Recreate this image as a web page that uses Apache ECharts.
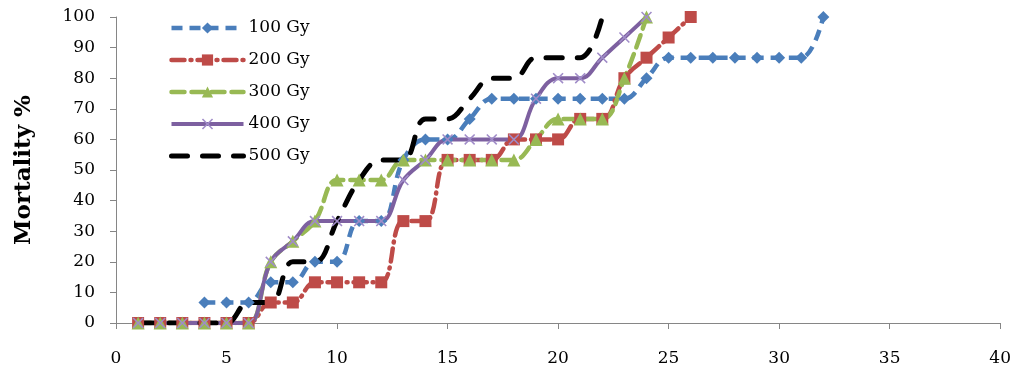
<!DOCTYPE html>
<html>
<head>
<meta charset="utf-8">
<script src="https://cdn.jsdelivr.net/npm/echarts@6/dist/echarts.min.js"></script>
<style>
html,body{margin:0;padding:0;background:#fff;}
#chart{width:1014px;height:370px;}
</style>
</head>
<body>
<div id="chart"></div>
<script>
// ---- data ----
var seriesNames = ['100 Gy', '200 Gy', '300 Gy', '400 Gy', '500 Gy'];

var days100 = [4,5,6,7,8,9,10,11,12,13,14,15,16,17,18,19,20,21,22,23,24,25,26,27,28,29,30,31,32];
var mort100 = [6.7,6.7,6.7,13.3,13.3,20,20,33.3,33.3,53.3,60,60,66.7,73.3,73.3,73.3,73.3,73.3,73.3,73.3,80,86.7,86.7,86.7,86.7,86.7,86.7,86.7,100];

var days200 = [1,2,3,4,5,6,7,8,9,10,11,12,13,14,15,16,17,18,19,20,21,22,23,24,25,26];
var mort200 = [0,0,0,0,0,0,6.7,6.7,13.3,13.3,13.3,13.3,33.3,33.3,53.3,53.3,53.3,60,60,60,66.7,66.7,80,86.7,93.3,100];

var days300 = [1,2,3,4,5,6,7,8,9,10,11,12,13,14,15,16,17,18,19,20,21,22,23,24];
var mort300 = [0,0,0,0,0,0,20,26.7,33.3,46.7,46.7,46.7,53.3,53.3,53.3,53.3,53.3,53.3,60,66.7,66.7,66.7,80,100];

var days400 = [1,2,3,4,5,6,7,8,9,10,11,12,13,14,15,16,17,18,19,20,21,22,23,24];
var mort400 = [0,0,0,0,0,0,20,26.7,33.3,33.3,33.3,33.3,46.7,53.3,60,60,60,60,73.3,80,80,86.7,93.3,100];

var days500 = [1,2,3,4,5,6,7,8,9,10,11,12,13,14,15,16,17,18,19,20,21,22];
var mort500 = [0,0,0,0,0,6.7,6.7,20,20,33.3,46.7,53.3,53.3,66.7,66.7,73.3,80,80,86.7,86.7,86.7,100];

var xTicks = [0,5,10,15,20,25,30,35,40];
var yTicks = [0,10,20,30,40,50,60,70,80,90,100];

function pairs(xs, ys){ return xs.map(function(x,i){ return [x, ys[i]]; }); }

var serif = '"DejaVu Serif", "Liberation Serif", serif';
var xShape = 'path://M0,1 L1,0 L5,4 L9,0 L10,1 L6,5 L10,9 L9,10 L5,6 L1,10 L0,9 L4,5 Z';

var chart = echarts.init(document.getElementById('chart'), null, {renderer:'canvas'});
chart.setOption({
  animation: false,
  backgroundColor: '#ffffff',
  grid: {left:116, right:12, top:17, bottom:47, containLabel:false},
  legend: {
    orient: 'vertical', left: 164, top: 13,
    itemWidth: 72, itemHeight: 14, itemGap: 12,
    textStyle: {fontFamily: serif, fontSize: 17, color: '#000', lineHeight: 20},
    data: [
      {name: seriesNames[0], lineStyle:{width:4.5}},
      {name: seriesNames[1], lineStyle:{width:4.5}},
      {name: seriesNames[2], lineStyle:{width:4.5}},
      {name: seriesNames[3], lineStyle:{width:4}},
      {name: seriesNames[4], lineStyle:{width:5}, itemStyle:{color:'rgba(0,0,0,0)', opacity:0}}
    ]
  },
  xAxis: {
    type: 'value', min: xTicks[0], max: xTicks[xTicks.length-1], interval: 5,
    axisLine: {show:true, onZero:false, lineStyle:{color:'#868686', width:1}},
    axisTick: {show:true, inside:false, length:6, lineStyle:{color:'#868686'}},
    splitLine: {show:false},
    axisLabel: {fontFamily: serif, fontSize: 17, color:'#000', margin: 27}
  },
  yAxis: {
    type: 'value', min: yTicks[0], max: yTicks[yTicks.length-1], interval: 10,
    name: 'Mortality %', nameLocation: 'middle', nameRotate: 90, nameGap: 80,
    nameTextStyle: {fontFamily: serif, fontSize: 23, fontWeight: 'bold', color:'#000'},
    axisLine: {show:true, lineStyle:{color:'#868686', width:1}},
    axisTick: {show:true, inside:false, length:6, lineStyle:{color:'#868686'}},
    splitLine: {show:false},
    axisLabel: {fontFamily: serif, fontSize: 17, color:'#000', margin: 21}
  },
  series: [
    {
      name: seriesNames[0], type:'line', smooth:0.4, data: pairs(days100, mort100),
      symbol:'diamond', symbolSize:12, showAllSymbol:true,
      itemStyle:{color:'#4A7EBB'},
      lineStyle:{color:'#4A7EBB', width:4.5, type:[11,7]}
    },
    {
      name: seriesNames[1], type:'line', smooth:0.4, data: pairs(days200, mort200),
      symbol:'rect', symbolSize:12, showAllSymbol:true,
      itemStyle:{color:'#BE4B48'},
      lineStyle:{color:'#BE4B48', width:4.5, type:[13,6,1,6], cap:'round'}
    },
    {
      name: seriesNames[2], type:'line', smooth:0.4, data: pairs(days300, mort300),
      symbol:'triangle', symbolSize:13, showAllSymbol:true,
      itemStyle:{color:'#98B954'},
      lineStyle:{color:'#98B954', width:4.5, type:[13,7], cap:'round'}
    },
    {
      name: seriesNames[3], type:'line', smooth:0.4, data: pairs(days400, mort400),
      symbol: xShape, symbolSize:11, showAllSymbol:true,
      itemStyle:{color:'#A08CC8'},
      lineStyle:{color:'#7D60A0', width:4}
    },
    {
      name: seriesNames[4], type:'line', smooth:0.4, data: pairs(days500, mort500),
      symbol:'none', showSymbol:false,
      itemStyle:{color:'#000000'},
      lineStyle:{color:'#000000', width:5, type:[16,15], cap:'round'}
    }
  ]
});
</script>
</body>
</html>
